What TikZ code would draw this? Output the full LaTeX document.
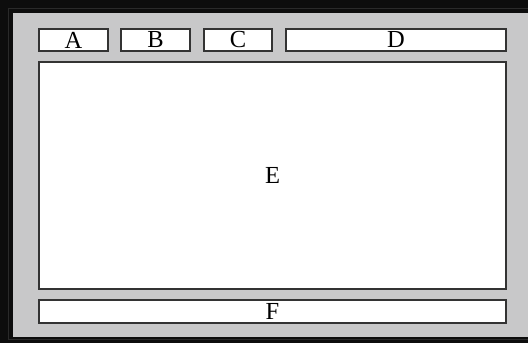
\documentclass[tikz,border=0pt]{standalone}
\usepackage{fontspec}
\setmainfont{Liberation Serif}
\definecolor{panelgray}{HTML}{C8C8C9}
\definecolor{edgegray}{HTML}{333333}
\definecolor{framegray}{HTML}{2A2A2A}
\tikzset{
  panel/.style={draw=edgegray, line width=1.3pt, fill=white, inner sep=0pt, font=\fontsize{24.5}{24.5}\selectfont},
}
\begin{document}
\begin{tikzpicture}[x=1pt,y=-1pt]
\useasboundingbox (0,0) rectangle (528,343);
\fill[black!95] (0,0) rectangle (528,343);
\draw[framegray, line width=1.2pt] (8.5,8.5) rectangle (540,339.5);
\fill[panelgray] (13,13) rectangle (528,337);
\node[panel, minimum width=69pt, minimum height=22pt] (A) at (73.5,40) {A};
\node[panel, minimum width=69pt, minimum height=22pt] (B) at (155.5,40) {B};
\node[panel, minimum width=68pt, minimum height=22pt] (C) at (238,40) {C};
\node[panel, minimum width=220pt, minimum height=22pt] (D) at (396,40) {D};
\node[panel, minimum width=467pt, minimum height=227pt] (E) at (272.5,175.5) {E};
\node[panel, minimum width=467pt, minimum height=23pt] (F) at (272.5,311.5) {F};
\end{tikzpicture}
\end{document}
